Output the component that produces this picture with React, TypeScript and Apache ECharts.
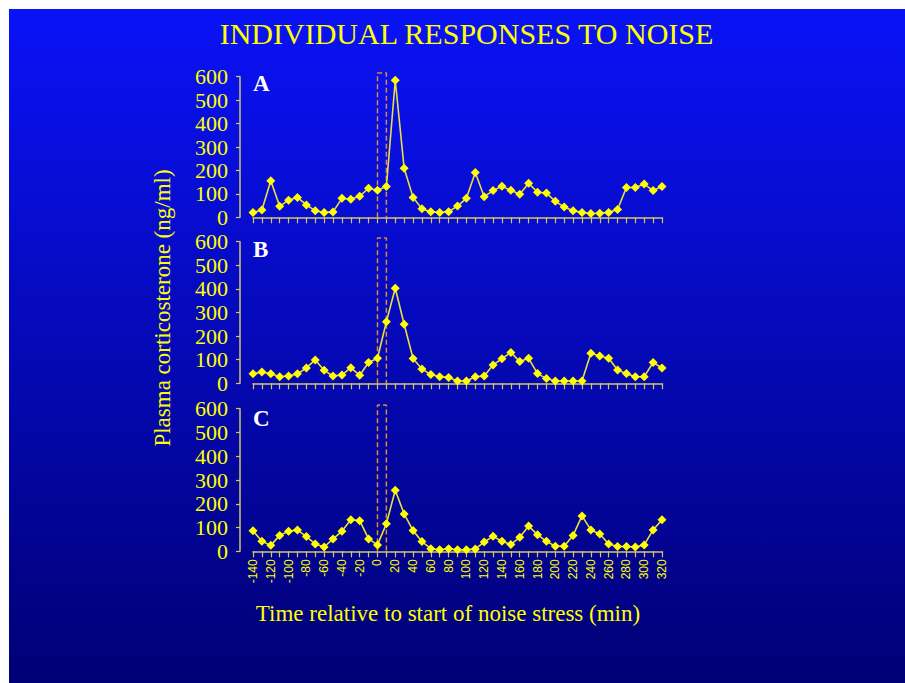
import { useEffect, useRef } from 'react';
import * as echarts from 'echarts';

const times = [-140, -130, -120, -110, -100, -90, -80, -70, -60, -50, -40, -30, -20, -10, 0, 10, 20, 30, 40, 50, 60, 70, 80, 90, 100, 110, 120, 130, 140, 150, 160, 170, 180, 190, 200, 210, 220, 230, 240, 250, 260, 270, 280, 290, 300, 310, 320];

const seriesA = [20, 31, 156, 47, 73, 85, 53, 28, 20, 23, 81, 77, 90, 124, 115, 131, 585, 209, 85, 36, 24, 21, 24, 48, 81, 191, 88, 114, 132, 115, 98, 145, 107, 104, 68, 44, 28, 21, 16, 17, 21, 33, 127, 127, 142, 114, 131];
const seriesB = [40, 48, 40, 28, 31, 40, 65, 99, 55, 31, 35, 66, 34, 88, 106, 261, 403, 250, 105, 61, 37, 28, 25, 10, 10, 28, 31, 78, 104, 131, 92, 106, 41, 20, 10, 10, 10, 10, 127, 116, 106, 56, 41, 28, 28, 88, 65];
const seriesC = [86, 42, 25, 67, 84, 90, 62, 31, 18, 52, 84, 133, 129, 52, 27, 116, 257, 157, 87, 41, 11, 6, 11, 6, 6, 10, 39, 63, 42, 29, 59, 106, 70, 42, 21, 21, 67, 149, 90, 73, 31, 20, 20, 18, 27, 90, 133];

const panelSeries = [seriesA, seriesB, seriesC];
const panelLabels = ['A', 'B', 'C'];
const noiseStart = 0;
const noiseEnd = 10;
const noiseBoxTop = 616;
const yTickLabels = ['0', '100', '200', '300', '400', '500', '600'];

const titleText = 'INDIVIDUAL RESPONSES TO NOISE';
const yName = 'Plasma corticosterone (ng/ml)';
const xName = 'Time relative to start of noise stress (min)';

const SERIF = "'Liberation Serif', 'Times New Roman', serif";
const SANS = "'Liberation Sans', Arial, sans-serif";
const YELLOW = '#ffff00';
const AXIS = '#d2c866';

const grids = [
  { top: 76.7, height: 140.6 },
  { top: 241.7, height: 141.6 },
  { top: 408.7, height: 142.6 },
];
const labelY = [83.5, 249.5, 418];

export default function App() {
  const ref = useRef<HTMLDivElement>(null);
  useEffect(() => {
    document.body.style.margin = '0';
    if (!ref.current) return;
    const chart = echarts.init(ref.current, null, { renderer: 'svg' });
    const option: any = {
      animation: false,
      backgroundColor: '#ffffff',
      grid: grids.map((g) => ({ left: 253, width: 409, top: g.top, height: g.height })),
      xAxis: grids.map((_, i) => ({
        type: 'value',
        gridIndex: i,
        min: -140,
        max: 320,
        interval: 10,
        axisLine: { show: true, onZero: false, lineStyle: { color: AXIS, width: 1.5 } },
        axisTick: { show: true, length: 6, lineStyle: { color: AXIS, width: 1.2 } },
        splitLine: { show: false },
        axisLabel: {
          show: i === 2,
          rotate: 90,
          margin: 8,
          color: YELLOW,
          fontFamily: SANS,
          fontSize: 12,
          formatter: (v: number) => (v % 20 === 0 ? String(v) : ''),
        },
      })),
      yAxis: grids.map((_, i) => ({
        type: 'value',
        gridIndex: i,
        min: 0,
        max: 600,
        interval: 100,
        offset: 13,
        axisLine: { show: true, onZero: false, lineStyle: { color: AXIS, width: 1.5 } },
        axisTick: { show: true, length: 4, lineStyle: { color: AXIS, width: 1.2 } },
        splitLine: { show: false },
        axisLabel: {
          margin: 12,
          color: YELLOW,
          fontFamily: SERIF,
          fontSize: 22,
          formatter: (v: number) => yTickLabels[Math.round(v / 100)] ?? String(v),
        },
      })),
      series: [
        ...grids.map((_, i) => ({
          type: 'line',
          xAxisIndex: i,
          yAxisIndex: i,
          data: [
            [noiseStart, 0],
            [noiseStart, noiseBoxTop],
            [noiseEnd, noiseBoxTop],
            [noiseEnd, 0],
          ],
          clip: false,
          symbol: 'none',
          silent: true,
          z: 1,
          lineStyle: { color: '#e0893c', width: 1.5, type: [5, 3] },
        })),
        ...panelSeries.map((s, i) => ({
          type: 'line',
          xAxisIndex: i,
          yAxisIndex: i,
          data: times.map((t, j) => [t, s[j]]),
          symbol: 'diamond',
          symbolSize: 9,
          z: 3,
          lineStyle: { color: '#e8e040', width: 1.6 },
          itemStyle: { color: YELLOW },
        })),
      ],
      graphic: [
        {
          type: 'rect',
          z: -10,
          silent: true,
          shape: { x: 9, y: 9, width: 896, height: 674 },
          style: {
            fill: new echarts.graphic.LinearGradient(0, 0, 0, 1, [
              { offset: 0, color: '#0a12f8' },
              { offset: 1, color: '#000075' },
            ]),
          },
        },
        {
          type: 'text',
          x: 466.5,
          y: 33,
          style: {
            text: titleText,
            fill: YELLOW,
            font: `30px ${SERIF}`,
            textAlign: 'center',
            textVerticalAlign: 'middle',
          },
        },
        {
          type: 'text',
          x: 448,
          y: 613,
          style: {
            text: xName,
            fill: YELLOW,
            font: `23px ${SERIF}`,
            textAlign: 'center',
            textVerticalAlign: 'middle',
          },
        },
        {
          type: 'text',
          x: 162,
          y: 308,
          rotation: Math.PI / 2,
          style: {
            text: yName,
            fill: YELLOW,
            font: `23px ${SERIF}`,
            textAlign: 'center',
            textVerticalAlign: 'middle',
          },
        },
        ...panelLabels.map((l, i) => ({
          type: 'text',
          x: 253,
          y: labelY[i],
          style: {
            text: l,
            fill: '#ffffff',
            font: `bold 23px ${SERIF}`,
            textAlign: 'left',
            textVerticalAlign: 'middle',
          },
        })),
      ],
    };
    chart.setOption(option);
    return () => chart.dispose();
  }, []);
  return <div ref={ref} style={{ width: 905, height: 683 }} />;
}
